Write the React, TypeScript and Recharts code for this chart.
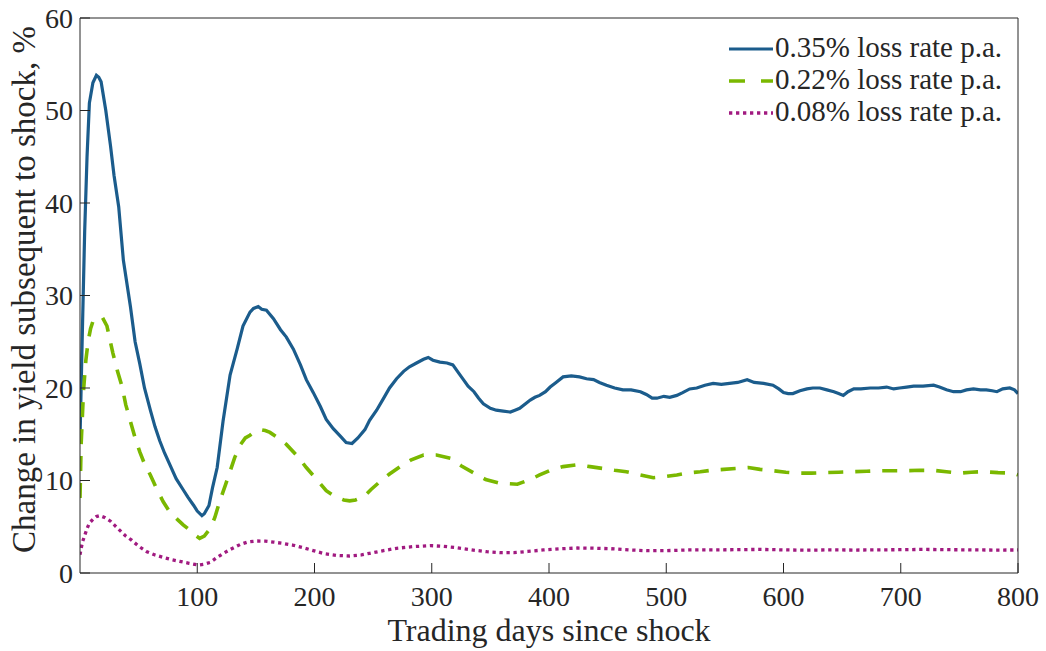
import React from 'react'
import { LineChart, Line, XAxis, YAxis, Label } from 'recharts'

// 0.35% loss rate p.a.
const highDays = [
  0, 2, 4, 6, 8, 11, 14, 16, 18, 22, 26, 29, 33, 37, 43, 47, 51, 55, 60, 64, 68, 72, 77, 82, 88, 92,
  97, 100, 104, 106, 110, 113, 117, 122, 128, 134, 139, 145, 148, 152, 155, 159, 165, 171, 176, 182,
  188, 193, 199, 205, 210, 216, 222, 227, 232, 237, 243, 247, 253, 259, 264, 270, 276, 281, 287, 293,
  297, 301, 307, 313, 318, 323, 327, 331, 336, 340, 344, 350, 355, 361, 367, 371, 375, 380, 384, 388,
  392, 397, 401, 406, 412, 419, 426, 432, 438, 443, 449, 456, 463, 470, 478, 483, 488, 492, 498, 503,
  509, 514, 520, 526, 533, 540, 547, 554, 561, 569, 575, 583, 591, 596, 600, 604, 608, 614, 620, 625,
  631, 637, 643, 647, 651, 655, 660, 666, 674, 681, 688, 694, 699, 705, 711, 719, 728, 733, 739, 745,
  751, 756, 762, 768, 773, 778, 782, 787, 793, 797, 800,
]
const highRate = [
  14.5, 26, 37, 45, 50.8, 53, 53.8, 53.6, 53.1, 50, 46.2, 43, 39.6, 33.8, 28.8, 25, 22.6, 20, 17.6, 15.8,
  14.3, 13, 11.6, 10.2, 9.0, 8.2, 7.3, 6.7, 6.2, 6.4, 7.3, 9.2, 11.4, 16.4, 21.4, 24.2, 26.7, 28.2, 28.6,
  28.8, 28.5, 28.4, 27.5, 26.3, 25.5, 24.2, 22.5, 20.9, 19.5, 18.0, 16.6, 15.6, 14.8, 14.1, 14.0, 14.6,
  15.5, 16.5, 17.6, 18.9, 20.0, 21.0, 21.8, 22.3, 22.7, 23.1, 23.3, 23.0, 22.8, 22.7, 22.5, 21.6, 20.9,
  20.2, 19.6, 18.9, 18.3, 17.8, 17.6, 17.5, 17.4, 17.6, 17.8, 18.3, 18.7, 19.0, 19.2, 19.6, 20.1, 20.6,
  21.2, 21.3, 21.2, 21.0, 20.9, 20.6, 20.3, 20.0, 19.8, 19.8, 19.6, 19.3, 18.9, 18.9, 19.1, 19.0, 19.2,
  19.5, 19.9, 20.0, 20.3, 20.5, 20.4, 20.5, 20.6, 20.9, 20.6, 20.5, 20.3, 19.9, 19.5, 19.4, 19.4, 19.7,
  19.9, 20.0, 20.0, 19.8, 19.6, 19.4, 19.2, 19.6, 19.9, 19.9, 20.0, 20.0, 20.1, 19.9, 20.0, 20.1, 20.2,
  20.2, 20.3, 20.1, 19.8, 19.6, 19.6, 19.8, 19.9, 19.8, 19.8, 19.7, 19.6, 19.9, 20.0, 19.8, 19.4,
]

// 0.22% loss rate p.a.
const midDays = [
  0, 1, 3, 5, 7, 9, 11, 15, 19, 23, 25, 28, 32, 36, 39, 43, 47, 51, 55, 60, 65, 71, 76, 83, 88, 94, 98,
  102, 106, 111, 115, 119, 124, 128, 132, 137, 141, 145, 149, 154, 158, 162, 169, 176, 185, 193, 202,
  210, 217, 225, 230, 235, 242, 248, 256, 264, 273, 282, 293, 304, 316, 325, 336, 346, 358, 373, 384,
  392, 401, 412, 424, 435, 446, 456, 466, 478, 489, 498, 509, 518, 529, 538, 549, 559, 570, 580, 591,
  602, 613, 624, 635, 647, 660, 671, 682, 694, 705, 716, 728, 739, 751, 760, 770, 783, 796, 800,
]
const midRate = [
  8.1, 14, 19.7, 23, 25.1, 26.4, 27.2, 27.6, 27.65, 26.7, 25.5, 23.8, 21.8, 20.1, 18.2, 16.4, 14.6, 13.1,
  11.8, 10.6, 9.2, 7.7, 6.7, 5.8, 5.2, 4.6, 4.1, 3.75, 4.0, 4.8, 6.0, 7.7, 9.5, 11.0, 12.5, 13.9, 14.6,
  14.9, 15.3, 15.5, 15.4, 15.2, 14.6, 13.9, 12.7, 11.4, 10.1, 8.9, 8.3, 7.9, 7.8, 7.9, 8.25, 9.0, 9.9,
  10.7, 11.5, 12.2, 12.75, 12.75, 12.4, 11.6, 10.8, 10.1, 9.7, 9.6, 10.1, 10.6, 11.1, 11.5, 11.7, 11.5,
  11.3, 11.1, 10.95, 10.6, 10.3, 10.4, 10.6, 10.8, 10.95, 11.1, 11.2, 11.3, 11.4, 11.2, 11.06, 10.9,
  10.8, 10.8, 10.85, 10.9, 10.95, 11.0, 11.06, 11.06, 11.06, 11.1, 11.1, 10.95, 10.8, 10.9, 10.95, 10.85,
  10.8, 10.6,
]

// 0.08% loss rate p.a.
const lowDays = [
  0, 2, 6, 8, 11, 14, 17, 21, 26, 30, 34, 39, 44, 50, 57, 64, 71, 78, 85, 93, 101, 106, 111, 116, 122,
  129, 137, 143, 151, 158, 165, 173, 182, 190, 199, 208, 219, 230, 240, 247, 258, 270, 284, 299, 310,
  321, 334, 347, 358, 370, 382, 395, 410, 424, 438, 452, 468, 483, 500, 519, 540, 560, 580, 600, 620,
  640, 660, 680, 700, 720, 740, 760, 780, 800,
]
const lowRate = [
  1.97, 3.3, 4.8, 5.4, 5.8, 6.1, 6.2, 6.0, 5.6, 5.1, 4.6, 4.0, 3.55, 2.9, 2.3, 1.95, 1.68, 1.45, 1.26,
  1.05, 0.85, 0.95, 1.14, 1.6, 2.1, 2.6, 3.1, 3.35, 3.46, 3.45, 3.34, 3.2, 3.0, 2.75, 2.42, 2.1, 1.9,
  1.84, 1.95, 2.13, 2.4, 2.67, 2.85, 2.96, 2.88, 2.74, 2.5, 2.3, 2.2, 2.2, 2.33, 2.49, 2.62, 2.7, 2.68,
  2.63, 2.5, 2.41, 2.42, 2.49, 2.5, 2.52, 2.55, 2.5, 2.47, 2.5, 2.48, 2.5, 2.52, 2.55, 2.52, 2.5, 2.48,
  2.49,
]

const xTicks = [100, 200, 300, 400, 500, 600, 700, 800]
const yTicks = [0, 10, 20, 30, 40, 50, 60]

const toPoints = (days: number[], vals: number[]) => days.map((day, i) => ({ day, value: vals[i] }))

const series = [
  { key: 'high', name: '0.35% loss rate p.a.', data: toPoints(highDays, highRate), color: '#1b5c8c', width: 3.2, dash: undefined },
  { key: 'mid', name: '0.22% loss rate p.a.', data: toPoints(midDays, midRate), color: '#7ab800', width: 3.6, dash: '15 12' },
  { key: 'low', name: '0.08% loss rate p.a.', data: toPoints(lowDays, lowRate), color: '#a11a80', width: 3.3, dash: '3.3 3.7' },
]

const FONT = 'Liberation Serif, DejaVu Serif'
const INK = '#262626'
const tickStyle = { fontSize: 28, fill: INK, fontFamily: FONT }

// eslint-disable-next-line @typescript-eslint/no-explicit-any
const XTitle = ({ viewBox }: any) => (
  <text x={viewBox.x + viewBox.width / 2} y={viewBox.y + viewBox.height - 10} textAnchor="middle"
    fontSize={32} fill={INK} style={{ fontFamily: FONT }}>
    Trading days since shock
  </text>
)

// eslint-disable-next-line @typescript-eslint/no-explicit-any
const YTitle = ({ viewBox }: any) => {
  const cx = 35
  const cy = viewBox.y + viewBox.height / 2 - 6
  return (
    <text x={cx} y={cy} transform={`rotate(-90, ${cx}, ${cy})`} textAnchor="middle"
      fontSize={33} fill={INK} style={{ fontFamily: FONT }}>
      Change in yield subsequent to shock, %
    </text>
  )
}

function LegendBox() {
  return (
    <svg width={320} height={110} style={{ position: 'absolute', left: 720, top: 30 }}>
      {series.map((s, i) => {
        const y = 19 + i * 32
        return (
          <g key={s.key}>
            <line x1={9} x2={53} y1={y} y2={y} stroke={s.color} strokeWidth={s.width}
              strokeDasharray={s.key === 'mid' ? '16 16' : s.dash} />
            <text x={55} y={y + 8} fontSize={29} fill={INK} style={{ fontFamily: FONT }}>{s.name}</text>
          </g>
        )
      })}
    </svg>
  )
}

export default function App() {
  return (
    <div style={{ position: 'absolute', left: 0, top: 0, width: 1046, height: 651, background: '#fff', fontFamily: FONT }}>
      <LineChart width={1046} height={651} margin={{ top: 17, right: 27, bottom: 0, left: 0 }}
        style={{ fontFamily: FONT }}>
        <XAxis dataKey="day" type="number" domain={[0, 800]} ticks={xTicks} allowDataOverflow
          height={78} stroke={INK} tickSize={-10} tickMargin={23} tick={tickStyle}>
          <Label content={<XTitle />} />
        </XAxis>
        <XAxis xAxisId="top" orientation="top" dataKey="day" type="number" domain={[0, 800]} ticks={xTicks}
          height={1} stroke={INK} tickSize={-10} tick={false} />
        <YAxis type="number" domain={[0, 60]} ticks={yTicks} width={80} stroke={INK}
          tickSize={-10} tickMargin={17} tick={tickStyle}>
          <Label content={<YTitle />} />
        </YAxis>
        <YAxis yAxisId="right" orientation="right" type="number" domain={[0, 60]} ticks={yTicks}
          width={1} stroke={INK} tickSize={-10} tick={false} />
        {series.map((s) => (
          <Line key={s.key} data={s.data} dataKey="value" name={s.name} type="linear"
            stroke={s.color} strokeWidth={s.width} strokeDasharray={s.dash}
            dot={false} activeDot={false} isAnimationActive={false} />
        ))}
      </LineChart>
      <LegendBox />
    </div>
  )
}
